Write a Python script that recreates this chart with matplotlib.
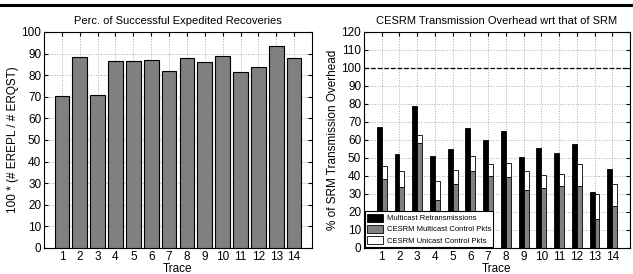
import numpy as np
import matplotlib
matplotlib.use('Agg')
import matplotlib.pyplot as plt
from matplotlib.lines import Line2D

plt.rcParams['font.family'] = ['Liberation Sans', 'DejaVu Sans']

traces = list(range(1, 15))
expedited = [70.3, 88.5, 71.0, 86.8, 86.5, 87.0, 82.0, 88.0, 86.0, 89.0, 81.3, 83.7, 93.3, 87.8]

multicast_retx = [67.0, 52.3, 79.0, 51.0, 55.2, 66.8, 60.0, 65.2, 50.7, 55.8, 52.6, 58.0, 31.3, 44.0]
cesrm_mcast = [38.5, 34.0, 58.5, 26.5, 35.8, 43.0, 40.2, 39.2, 32.3, 33.1, 34.2, 34.5, 16.3, 23.6]
cesrm_total = [45.8, 43.0, 63.0, 37.3, 43.5, 51.0, 46.7, 47.0, 42.8, 40.7, 41.3, 46.6, 30.2, 35.4]
cesrm_ucast = [t - m for t, m in zip(cesrm_total, cesrm_mcast)]

W, H = 633, 274
fig = plt.figure(figsize=(W / 100, H / 100), dpi=100)

def style(ax, ymax, step):
    ax.set_xlim(0, 15)
    ax.set_ylim(0, ymax)
    ax.set_xticks(traces)
    ax.set_yticks(np.arange(0, ymax + 1, step))
    ax.tick_params(direction='in', labelsize=8.5, length=3, top=True, right=True, pad=2)
    ax.grid(True, linestyle=':', color='#aaaaaa', linewidth=0.7)
    ax.set_axisbelow(True)
    ax.set_xlabel('Trace', fontsize=8.5, labelpad=0)
    for s in ax.spines.values():
        s.set_linewidth(0.8)

ax1 = fig.add_axes([44 / W, 26 / H, 268 / W, 216 / H])
ax1.bar(traces, expedited, width=0.82, color='#808080', edgecolor='black', linewidth=0.8, zorder=3)
style(ax1, 100, 10)
ax1.set_title('Perc. of Successful Expedited Recoveries', fontsize=8, pad=6)
ax1.set_ylabel('100 * (# EREPL / # ERQST)', fontsize=8.5, labelpad=2)

ax2 = fig.add_axes([364 / W, 26 / H, 266 / W, 216 / H])
x = np.array(traces)
bw = 0.28
ax2.bar(x - bw / 2, multicast_retx, width=bw, color='black', edgecolor='black', linewidth=0.6,
        zorder=3, label='Multicast Retransmissions')
ax2.bar(x + bw / 2, cesrm_mcast, width=bw, color='#808080', edgecolor='black', linewidth=0.6,
        zorder=3, label='CESRM Multicast Control Pkts')
ax2.bar(x + bw / 2, cesrm_ucast, bottom=cesrm_mcast, width=bw, color='white', edgecolor='black',
        linewidth=0.6, zorder=3, label='CESRM Unicast Control Pkts')
ax2.axhline(100, color='black', linestyle='--', linewidth=0.9, zorder=4)
style(ax2, 120, 10)
ax2.set_title('CESRM Transmission Overhead wrt that of SRM', fontsize=8, pad=6)
ax2.set_ylabel('% of SRM Transmission Overhead', fontsize=8.5, labelpad=2)
leg = ax2.legend(loc='lower left', fontsize=5.5, frameon=True, fancybox=False, framealpha=1,
                 edgecolor='black', borderpad=0.3, labelspacing=0.35, handlelength=2.0,
                 handleheight=1.2, handletextpad=0.5, borderaxespad=0.15)
leg.get_frame().set_linewidth(0.8)
leg.set_zorder(5)

fig.add_artist(Line2D([0, 1], [1 - 5 / H, 1 - 5 / H], color='black', linewidth=2.2,
                      transform=fig.transFigure))

fig.savefig('out.png', dpi=100)
